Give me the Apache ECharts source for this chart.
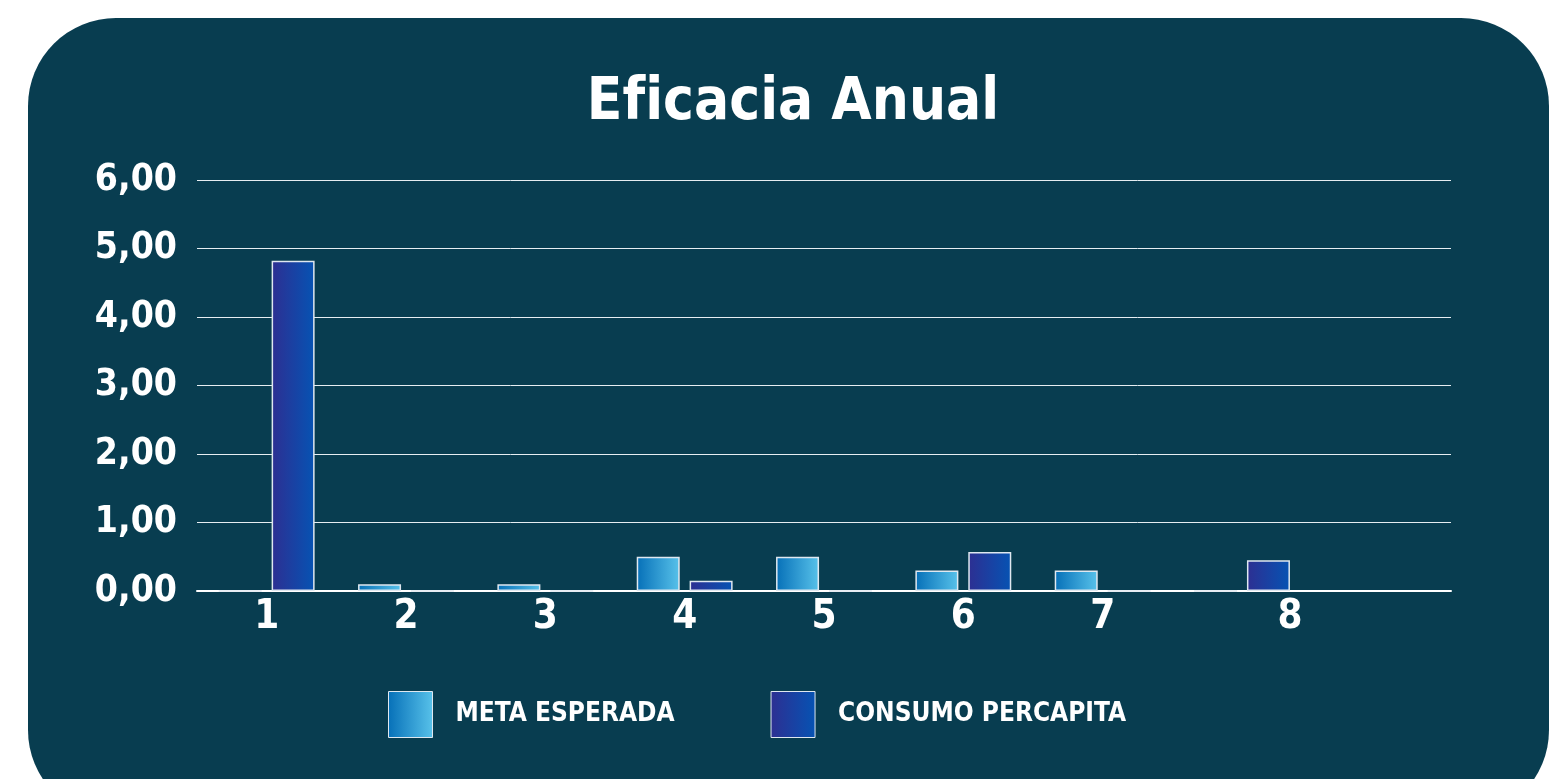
<!DOCTYPE html>
<html lang="es">
<head>
    <meta charset="UTF-8">
    <title>Eficacia Anual</title>
    <script type="text/javascript" src="https://cdn.jsdelivr.net/npm/echarts@6/dist/echarts.min.js"></script>
    <style>
        html, body { margin: 0; padding: 0; background: #ffffff; overflow: hidden; }
        #panel { position: absolute; left: 28px; top: 18px; width: 1521px; height: 800px;
                 background: #083d50; border-radius: 88px; }
        #main { position: absolute; left: 0; top: 0; width: 1549px; height: 779px; }
    </style>
</head>
<body>
<div id="panel"></div>
<div id="main"></div>
</body>
<script>
    var categorias = ["1", "2", "3", "4", "5", "6", "7", "8", ""]
    var metaEsperada = [0, 0.1, 0.1, 0.5, 0.5, 0.3, 0.3, 0, null]
    var consumoPercapita = [4.82, 0, 0, 0.15, 0, 0.57, 0, 0.45, null]
    var ticksY = [0, 1, 2, 3, 4, 5, 6]

    var fuente = "'DejaVu Sans Condensed', sans-serif"

    function degradado(c1, c2) {
        return new echarts.graphic.LinearGradient(0, 0, 1, 0, [
            {offset: 0, color: c1},
            {offset: 1, color: c2}
        ])
    }
    var colorMeta = degradado("#0670b8", "#58c2ea")
    var colorConsumo = degradado("#2d2f92", "#0653b3")

    var myChart = echarts.init(document.getElementById("main"))
    myChart.setOption({
        backgroundColor: "transparent",
        title: {
            text: "Eficacia Anual",
            left: 788,
            textAlign: "center",
            top: 70,
            textStyle: {color: "#ffffff", fontFamily: fuente, fontWeight: "bold", fontSize: 58}
        },
        legend: {
            data: ["META ESPERADA", "CONSUMO PERCAPITA"],
            left: 383,
            top: 686,
            icon: "rect",
            itemWidth: 44,
            itemHeight: 46,
            itemGap: 96,
            textStyle: {color: "#ffffff", fontFamily: fuente, fontWeight: "bold", fontSize: 26, padding: [0, 0, 0, 18]},
            itemStyle: {borderColor: "#dfe8f0", borderWidth: 1}
        },
        grid: {left: 197, right: 98, top: 180, bottom: 188},
        xAxis: {
            type: "category",
            data: categorias,
            axisLine: {lineStyle: {color: "#ffffff", width: 2}},
            axisTick: {show: false},
            axisLabel: {
                interval: 0,
                color: "#ffffff", fontFamily: fuente, fontWeight: "bold", fontSize: 40, margin: 7,
                formatter: function (v) { return v === "8" ? "{s|8}" : v },
                rich: {s: {color: "#ffffff", fontFamily: fuente, fontWeight: "bold", fontSize: 40, padding: [0, 0, 0, 96]}}
            }
        },
        yAxis: {
            type: "value",
            min: ticksY[0],
            max: ticksY[ticksY.length - 1],
            interval: 1,
            axisLine: {show: false},
            axisTick: {show: false},
            splitLine: {lineStyle: {color: "#e6eef2", width: 1}},
            axisLabel: {
                color: "#ffffff", fontFamily: fuente, fontWeight: "bold", fontSize: 37, margin: 20,
                formatter: function (v) { return v.toFixed(2).replace(".", ",") }
            }
        },
        series: [{
            name: "META ESPERADA",
            type: "bar",
            data: metaEsperada,
            barWidth: 43,
            barGap: "23%",
            itemStyle: {color: colorMeta, borderColor: "#dfe8f0", borderWidth: 1.5}
        }, {
            name: "CONSUMO PERCAPITA",
            type: "bar",
            data: consumoPercapita,
            barWidth: 43,
            itemStyle: {color: colorConsumo, borderColor: "#dfe8f0", borderWidth: 1.5}
        }]
    })
</script>
</html>
